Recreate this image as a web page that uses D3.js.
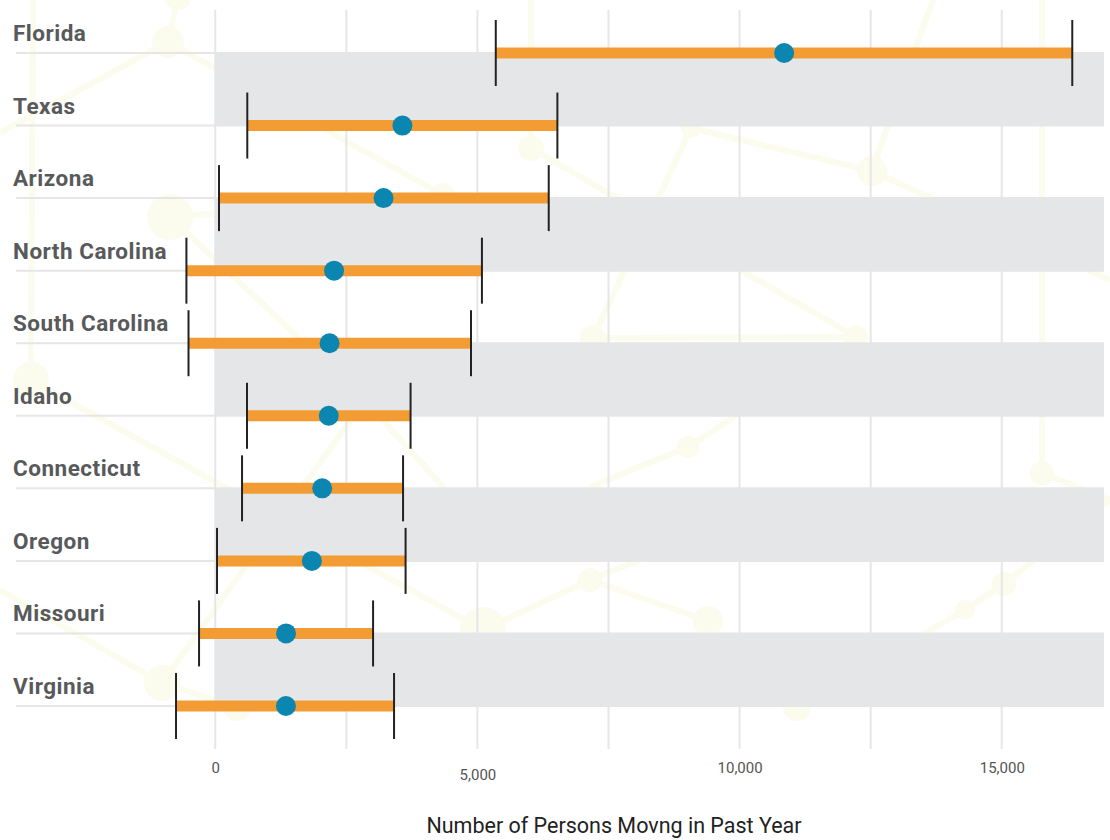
<!DOCTYPE html>
<html>
<head>
<meta charset="utf-8">
<script src="https://cdn.jsdelivr.net/npm/d3@7"></script>
<style>
  html, body { margin: 0; padding: 0; background: #ffffff; }
  svg { display: block; }
</style>
</head>
<body>
<div id="chart"></div>
<script>
// States, ordered top to bottom
const states = ["Florida", "Texas", "Arizona", "North Carolina", "South Carolina",
                "Idaho", "Connecticut", "Oregon", "Missouri", "Virginia"];
// Point estimate of persons moving in the past year
const estimate = [10850, 3570, 3210, 2266, 2180, 2165, 2040, 1843, 1350, 1348];
// Lower and upper bounds of the margin of error
const lower = [5350, 611, 72, -550, -510, 606, 511, 34, -309, -748];
const upper = [16345, 6525, 6360, 5086, 4878, 3725, 3582, 3630, 3010, 3410];
// Axis ticks
const xTicks = [0, 5000, 10000, 15000];
const gridValues = [0, 2500, 5000, 7500, 10000, 12500, 15000];

// Faint network decoration in the background
const netNodes = [
  [33, -20, 0], [31, 380, 18], [168, 42, 16], [178, -4, 14], [170, 217, 23],
  [531, 148, 13], [531, -20, 0], [443, 195, 12], [691, 128, 10], [872, 171, 15],
  [940, -20, 0], [1042, 473, 12], [856, 337, 12], [593, 338, 13], [365, 400, 20],
  [688, 447, 11], [483, 630, 23], [590, 580, 12], [708, 621, 15], [797, 707, 14],
  [965, 610, 10], [1004, 584, 12], [162, 683, 18], [237, 707, 14], [0, 590, 0],
  [0, 133, 0], [1110, 500, 0], [1110, 280, 0], [1042, -20, 0], [443, 487, 0],
  [590, 487, 0], [640, 560, 0]
];
const netEdges = [
  [0, 1], [1, 16], [2, 25], [2, 7], [3, 2], [5, 6], [5, 12], [7, 4], [8, 9],
  [9, 27], [10, 9], [12, 13], [13, 8], [11, 26], [11, 28], [14, 29], [15, 30],
  [16, 17], [17, 31], [17, 18], [22, 24], [22, 23], [22, 14], [19, 20], [20, 21],
  [21, 26], [15, 12], [4, 14]
];

const W = 1110, H = 840;
const rowStart = 16, rowEnd = 1104;

const svg = d3.select("#chart").append("svg")
  .attr("width", W).attr("height", H);

const x = d3.scaleLinear().domain([-3800, 16950]).range([rowStart, rowEnd]);
const y = d3.scalePoint().domain(states).range([53, 706]);

// Background network
const decoColor = "#fbfbee";
const deco = svg.append("g").attr("class", "deco");
deco.selectAll("line").data(netEdges).join("line")
  .attr("x1", d => netNodes[d[0]][0]).attr("y1", d => netNodes[d[0]][1])
  .attr("x2", d => netNodes[d[1]][0]).attr("y2", d => netNodes[d[1]][1])
  .attr("stroke", decoColor).attr("stroke-width", 6);
deco.selectAll("circle").data(netNodes.filter(d => d[2] > 0)).join("circle")
  .attr("cx", d => d[0]).attr("cy", d => d[1]).attr("r", d => d[2])
  .attr("fill", decoColor);

// Vertical gridlines
svg.append("g").selectAll("line").data(gridValues).join("line")
  .attr("x1", d => x(d)).attr("x2", d => x(d))
  .attr("y1", 10).attr("y2", 749)
  .attr("stroke", "#e6e6e6").attr("stroke-width", 2);

// Row baselines
svg.append("g").selectAll("line").data(states).join("line")
  .attr("x1", rowStart).attr("x2", rowEnd)
  .attr("y1", d => y(d)).attr("y2", d => y(d))
  .attr("stroke", "#e6e6e6").attr("stroke-width", 2);

// Alternating shaded bands between row baselines
const bandPairs = states.map((s, i) => [s, states[i + 1]]).filter((p, i) => i % 2 === 0);
svg.append("g").selectAll("rect").data(bandPairs).join("rect")
  .attr("x", x(0)).attr("width", rowEnd - x(0))
  .attr("y", d => y(d[0])).attr("height", d => y(d[1]) - y(d[0]))
  .attr("fill", "#e5e6e8");

// State labels
svg.append("g").selectAll("text").data(states).join("text")
  .attr("x", 13).attr("y", d => y(d) - 12)
  .attr("font-family", "Roboto, sans-serif").attr("font-weight", 700)
  .attr("font-size", 22.5).attr("letter-spacing", 0.5).attr("fill", "#58595b")
  .text(d => d);

const rows = states.map((s, i) => ({ state: s, est: estimate[i], lo: lower[i], hi: upper[i] }));

// Margin of error bars
const marks = svg.append("g");
marks.selectAll("line.bar").data(rows).join("line").attr("class", "bar")
  .attr("x1", d => x(d.lo)).attr("x2", d => x(d.hi))
  .attr("y1", d => y(d.state)).attr("y2", d => y(d.state))
  .attr("stroke", "#f39c33").attr("stroke-width", 11);

// End caps
const caps = rows.flatMap(d => [{ state: d.state, v: d.lo }, { state: d.state, v: d.hi }]);
marks.selectAll("line.cap").data(caps).join("line").attr("class", "cap")
  .attr("x1", d => x(d.v)).attr("x2", d => x(d.v))
  .attr("y1", d => y(d.state) - 33).attr("y2", d => y(d.state) + 33)
  .attr("stroke", "#222222").attr("stroke-width", 2);

// Point estimates
marks.selectAll("circle").data(rows).join("circle")
  .attr("cx", d => x(d.est)).attr("cy", d => y(d.state)).attr("r", 10)
  .attr("fill", "#0a86b0");

// X axis
const axis = svg.append("g").attr("transform", "translate(0,752)")
  .call(d3.axisBottom(x).tickValues(xTicks).tickFormat(d3.format(",")).tickSize(0).tickPadding(10));
axis.select(".domain").remove();
axis.selectAll("text")
  .attr("font-family", "Roboto, sans-serif").attr("font-size", 15).attr("fill", "#555555");
axis.selectAll(".tick").filter(d => d === 5000).select("text").attr("dy", "1.2em");

// Axis title
svg.append("text")
  .attr("x", 614).attr("y", 833).attr("text-anchor", "middle")
  .attr("font-family", "Roboto, sans-serif").attr("font-size", 21.5).attr("fill", "#222222")
  .text("Number of Persons Movng in Past Year");
</script>
</body>
</html>
